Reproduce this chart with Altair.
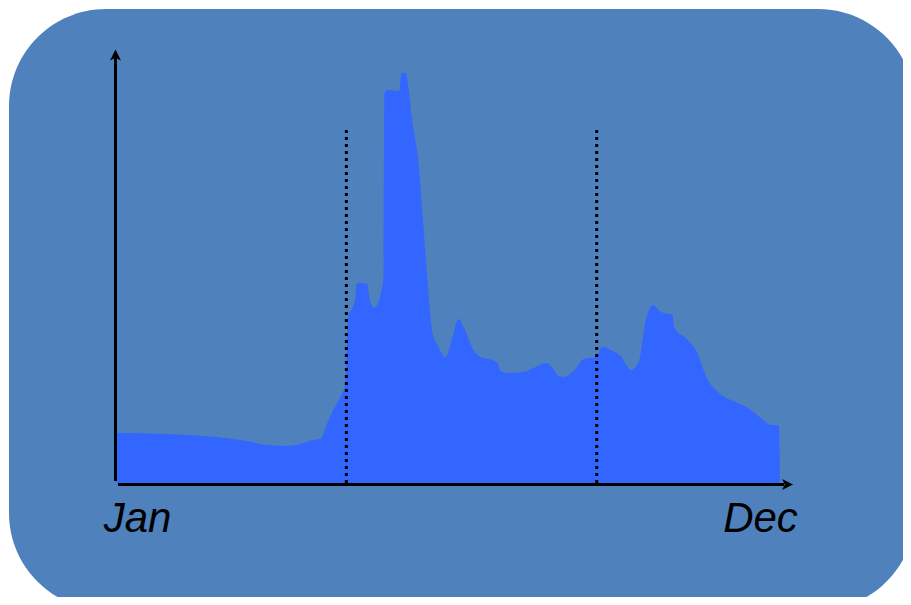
import altair as alt
import pandas as pd

# Curve: x in days from Jan (~0..331), y in arbitrary units
days = [0, 25, 58, 65, 75, 85, 91.5, 98, 101.5, 105, 108, 111.5, 114, 115.5, 117,
        119, 119.5, 121.5, 125, 126, 128.5, 133, 133.5, 135, 141, 142, 144, 147.5,
        150.5, 153, 155.5, 157.5, 160, 164, 167.5, 170.5, 173, 178, 181.5, 187.5,
        190, 191.5, 195, 203, 208, 214.5, 217.5, 220.5, 223, 228, 233, 239, 242.5,
        246.5, 251.5, 256.5, 260.5, 264, 267.5, 271.5, 277.5, 278, 285, 289, 295,
        300, 310, 315, 321.5, 326.5, 329.5, 330.5, 331]
values = [12.5, 12.25, 11, 10.5, 9.5, 9.25, 9.75, 10.75, 11, 15, 18.25, 21.5, 25, 42,
          43.25, 46.25, 49.75, 50, 49.75, 46.25, 43.75, 50.75, 97.5, 98.25, 98, 102.5,
          102.5, 90, 80, 64, 47.5, 37.5, 34.5, 31.5, 36.5, 41, 39, 33.25, 31.5, 30.75,
          30, 28, 27.5, 27.75, 28.75, 30, 28.75, 26.75, 26.5, 28, 31, 31.5, 34, 33.25,
          31.75, 28.25, 30.25, 40.75, 44.5, 42.75, 42, 39, 35.75, 33.25, 25.75, 22.75,
          20, 18.75, 16.25, 14.5, 14.5, 14, 0]

marker_days = [114.5, 239.5]
marker_top = 88.75

label_text = ["Jan", "Dec"]
label_days = [10.25, 321.25]
label_y = -12.25

curve = pd.DataFrame({"x": days, "y": values})
markers = pd.DataFrame({"x": marker_days, "y": [0, 0], "y2": [marker_top, marker_top]})
labels = pd.DataFrame({"x": label_days, "y": [label_y, label_y], "t": label_text})
yaxis = pd.DataFrame({"x": [-0.75], "y": [0.5], "y2": [106.5]})
xaxis = pd.DataFrame({"x": [0.5], "x2": [333.0], "y": [-0.4]})
uparrow = pd.DataFrame({"x": [-0.75], "y": [107.0]})
rightarrow = pd.DataFrame({"x": [334.75], "y": [-0.4]})

xs = alt.Scale(domain=[0, 330], range=[109, 770], zero=False, nice=False)
ys = alt.Scale(domain=[0, 100], range=[475, 75], zero=False, nice=False)

bg = alt.Chart(pd.DataFrame({"a": [1]})).mark_rect(
    color="#4F81BD", cornerRadius=97
).encode(x=alt.value(1), x2=alt.value(907), y=alt.value(1), y2=alt.value(602))

area = alt.Chart(curve).mark_area(color="#3366FF", interpolate="monotone", opacity=1).encode(
    x=alt.X("x:Q", scale=xs, axis=None),
    y=alt.Y("y:Q", scale=ys, axis=None),
)

dots = alt.Chart(markers).mark_rule(color="black", strokeWidth=3, strokeDash=[3, 4]).encode(
    x=alt.X("x:Q", scale=xs, axis=None),
    y=alt.Y("y:Q", scale=ys, axis=None),
    y2="y2:Q",
)

yline = alt.Chart(yaxis).mark_rule(color="black", strokeWidth=3).encode(
    x=alt.X("x:Q", scale=xs, axis=None),
    y=alt.Y("y:Q", scale=ys, axis=None),
    y2="y2:Q",
)

xline = alt.Chart(xaxis).mark_rule(color="black", strokeWidth=3).encode(
    x=alt.X("x:Q", scale=xs, axis=None),
    x2="x2:Q",
    y=alt.Y("y:Q", scale=ys, axis=None),
)

uhead = alt.Chart(uparrow).mark_point(
    shape="M0,-1L1,1L0,0.5L-1,1Z", filled=True, color="black", size=121, opacity=1
).encode(x=alt.X("x:Q", scale=xs, axis=None), y=alt.Y("y:Q", scale=ys, axis=None))

rhead = alt.Chart(rightarrow).mark_point(
    shape="M1,0L-1,-1L-0.5,0L-1,1Z", filled=True, color="black", size=121, opacity=1
).encode(x=alt.X("x:Q", scale=xs, axis=None), y=alt.Y("y:Q", scale=ys, axis=None))

text = alt.Chart(labels).mark_text(
    font="Liberation Sans", fontSize=42, fontStyle="italic", color="black",
    align="center", baseline="alphabetic"
).encode(x=alt.X("x:Q", scale=xs, axis=None), y=alt.Y("y:Q", scale=ys, axis=None), text="t:N")

chart = alt.layer(bg, area, dots, yline, xline, uhead, rhead, text).properties(
    width=895, height=589, padding=0, autosize=alt.AutoSizeParams(type="none"),
    background="white",
).configure_view(stroke=None)

chart.save("out.html", embed_options={"renderer": "svg", "actions": False})
